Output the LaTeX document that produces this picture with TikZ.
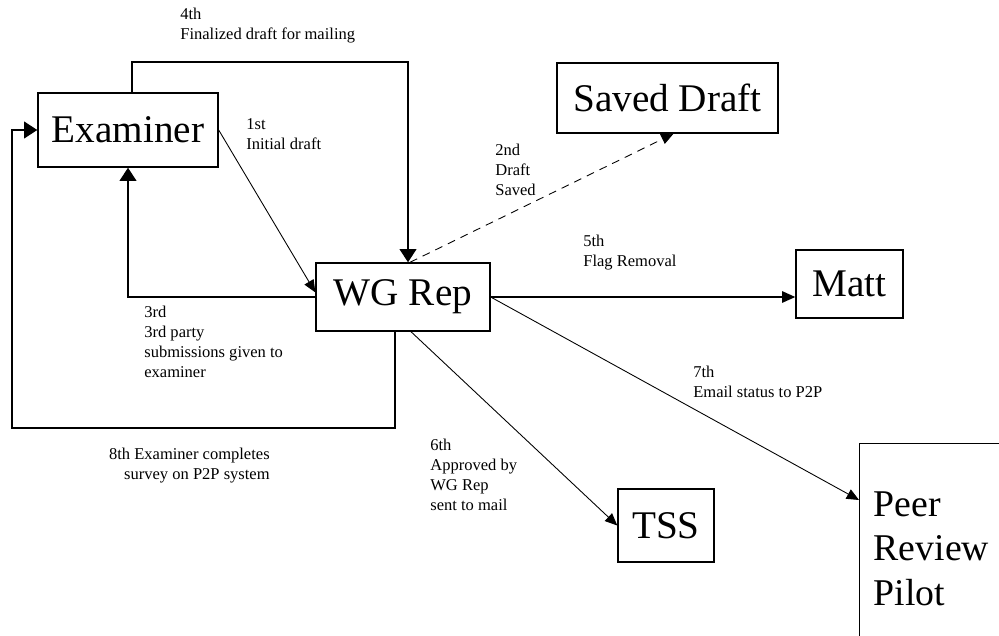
\documentclass[tikz,border=0pt]{standalone}
\usepackage{fontspec}
\setmainfont{Liberation Serif}
\usetikzlibrary{arrows.meta}
\begin{document}
\begin{tikzpicture}[x=0.02cm,y=-0.02cm,
  box/.style={draw, line width=0.8pt, font=\fontsize{22.3}{25.5}\selectfont, inner sep=0pt},
  lbl/.style={font=\fontsize{9.4}{11.3}\selectfont, align=left, anchor=north west, inner sep=0pt},
  bigarrow/.style={line width=1pt, -{Triangle[length=7.5pt,width=9.5pt]}},
  link/.style={line width=0.5pt, -{Triangle[length=7pt,width=6pt]}}]
\useasboundingbox (0,0) rectangle (999,635);
\node[box, minimum width=3.6cm, minimum height=1.48cm] (exam) at (128,130) {Examiner};
\node[box, minimum width=3.48cm, minimum height=1.36cm] (wg) at (403,297) {WG Rep};
\node[box, minimum width=4.42cm, minimum height=1.4cm] (saved) at (667.5,98) {Saved Draft};
\node[box, minimum width=2.14cm, minimum height=1.36cm] (matt) at (849.5,284) {Matt};
\node[box, minimum width=1.92cm, minimum height=1.46cm] (tss) at (666,525.5) {TSS};
\node[box, anchor=north west, minimum height=4.2cm, text width=3.4cm, align=left, inner xsep=0.28cm, font=\fontsize{21.5}{25.5}\selectfont] (peer) at (859,443) {Peer\\Review\\Pilot};
\coordinate (top) at (300,62);
\coordinate (low) at (12,428);
\draw[link] (exam.east) -- (wg.177);
\draw[bigarrow] ([xshift=0.08cm]exam.north) |- (top) -| ([xshift=0.1cm]wg.north);
\draw[bigarrow] (wg.west) -| (exam.south);
\draw[bigarrow] ([xshift=-0.16cm]wg.south) |- (low) |- (exam.west);
\draw[link, dash pattern=on 4.5pt off 3.5pt] ([xshift=0.14cm]wg.north) -- ([xshift=0.12cm]saved.south);
\draw[line width=0.8pt, -{Triangle[length=7.5pt,width=6.5pt]}] (wg.east) -- (wg.east -| matt.west);
\draw[link] ([xshift=0.16cm]wg.south) -- (tss.west);
\draw[link] (wg.east) -- ([yshift=-1.14cm]peer.north west);
\node[lbl] (l4) at (180,8) {4th\\Finalized draft for mailing};
\node[lbl] (l1) at (246,118) {1st\\Initial draft};
\node[lbl] (l2) at (495,144) {2nd\\Draft\\Saved};
\node[lbl] (l5) at (583,235) {5th\\Flag Removal};
\node[lbl] (l3) at (144,306) {3rd\\3rd party\\submissions given to\\examiner};
\node[lbl, anchor=north east, align=right] (l8) at (270,448) {8th Examiner completes\\survey on P2P system};
\node[lbl] (l6) at (430,439) {6th\\Approved by\\WG Rep\\sent to mail};
\node[lbl] (l7) at (693,366) {7th\\Email status to P2P};
\end{tikzpicture}
\end{document}
